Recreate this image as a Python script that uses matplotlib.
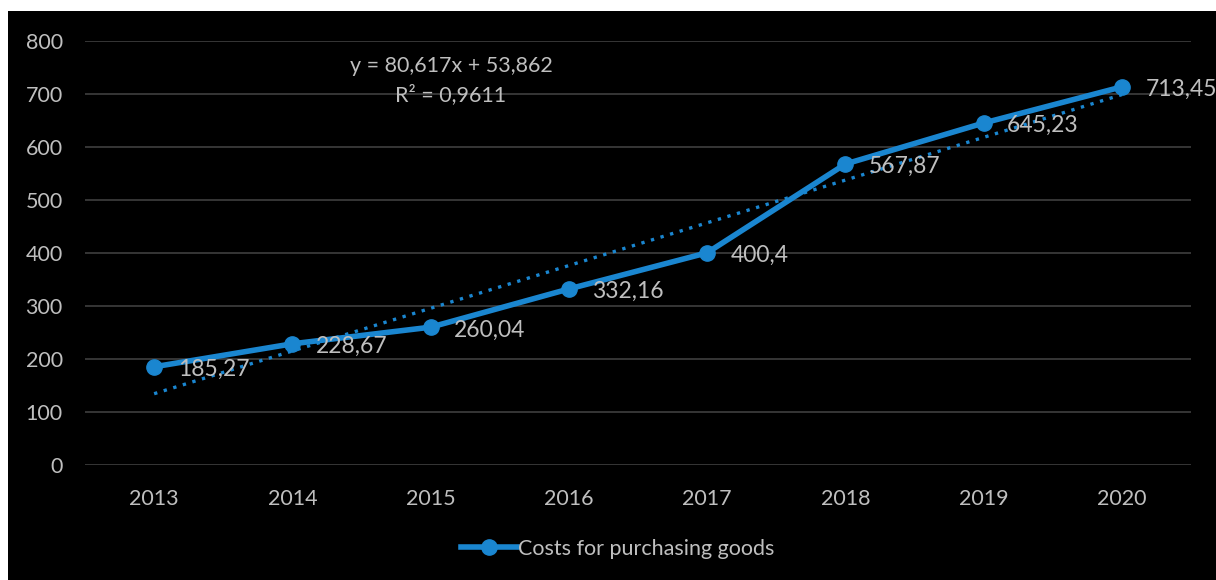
import numpy as np
import matplotlib
matplotlib.use("Agg")
import matplotlib.pyplot as plt
from matplotlib.patches import Rectangle
from matplotlib.lines import Line2D

years = ["2013", "2014", "2015", "2016", "2017", "2018", "2019", "2020"]
costs = [185.27, 228.67, 260.04, 332.16, 400.4, 567.87, 645.23, 713.45]
y_ticks = [0, 100, 200, 300, 400, 500, 600, 700, 800]
series_name = "Costs for purchasing goods"

BLUE = "#1a86d0"
TEXT = "#bfbfbf"
GRID = "#3f3f3f"

plt.rcParams["font.family"] = ["Lato", "DejaVu Sans"]


def comma(v):
    return f"{v:g}".replace(".", ",")


W, H = 1216, 580
fig = plt.figure(figsize=(W / 100, H / 100), dpi=100, facecolor="white")
fig.patches.append(Rectangle((8 / W, 0), 1 - 8 / W, 1 - 11 / H,
                             transform=fig.transFigure, facecolor="black",
                             edgecolor="none", zorder=-10))

ax = fig.add_axes([85 / W, 1 - 465 / H, (1191 - 85) / W, (465 - 41) / H])
ax.patch.set_alpha(0)

x = np.arange(1, len(years) + 1)
ax.set_xlim(0.5, len(years) + 0.5)
ax.set_ylim(0, 800)
ax.set_yticks(y_ticks)
ax.set_xticks(x, years)
ax.grid(axis="y", color=GRID, linewidth=1.2)
ax.set_axisbelow(True)
for s in ax.spines.values():
    s.set_visible(False)
ax.tick_params(colors=TEXT, labelsize=15.5, length=0)
ax.tick_params(axis="y", pad=16)
ax.tick_params(axis="x", pad=17)

# linear trendline
slope, icpt = np.polyfit(x, costs, 1)
r2 = np.corrcoef(x, costs)[0, 1] ** 2
ax.plot(x, slope * x + icpt, color=BLUE, linestyle=(0, (1, 2)), linewidth=2.4)

ax.plot(x, costs, color=BLUE, linewidth=4, marker="o", markersize=11,
        solid_capstyle="round", zorder=3)

for xi, v in zip(x, costs):
    ax.annotate(comma(v), (xi, v), xytext=(17, -2), textcoords="offset points",
                ha="left", va="center", color=TEXT, fontsize=16.5, zorder=4)

fig.text(451 / W, 1 - 66 / H, f"y = {slope:.3f}x + {icpt:.3f}".replace(".", ","),
         ha="center", va="center", color=TEXT, fontsize=15.5)
fig.text(451 / W, 1 - 95 / H, f"R² = {r2:.4f}".replace(".", ","),
         ha="center", va="center", color=TEXT, fontsize=15.5)

handle = Line2D([], [], color=BLUE, linewidth=4, marker="o", markersize=11)
leg = fig.legend([handle], [series_name], loc="center", bbox_to_anchor=(618 / W, 1 - 549 / H),
                 frameon=False, fontsize=15.5, handlelength=2.6, handletextpad=0.05,
                 labelcolor=TEXT)

fig.savefig("out.png", dpi=100, facecolor="white")
